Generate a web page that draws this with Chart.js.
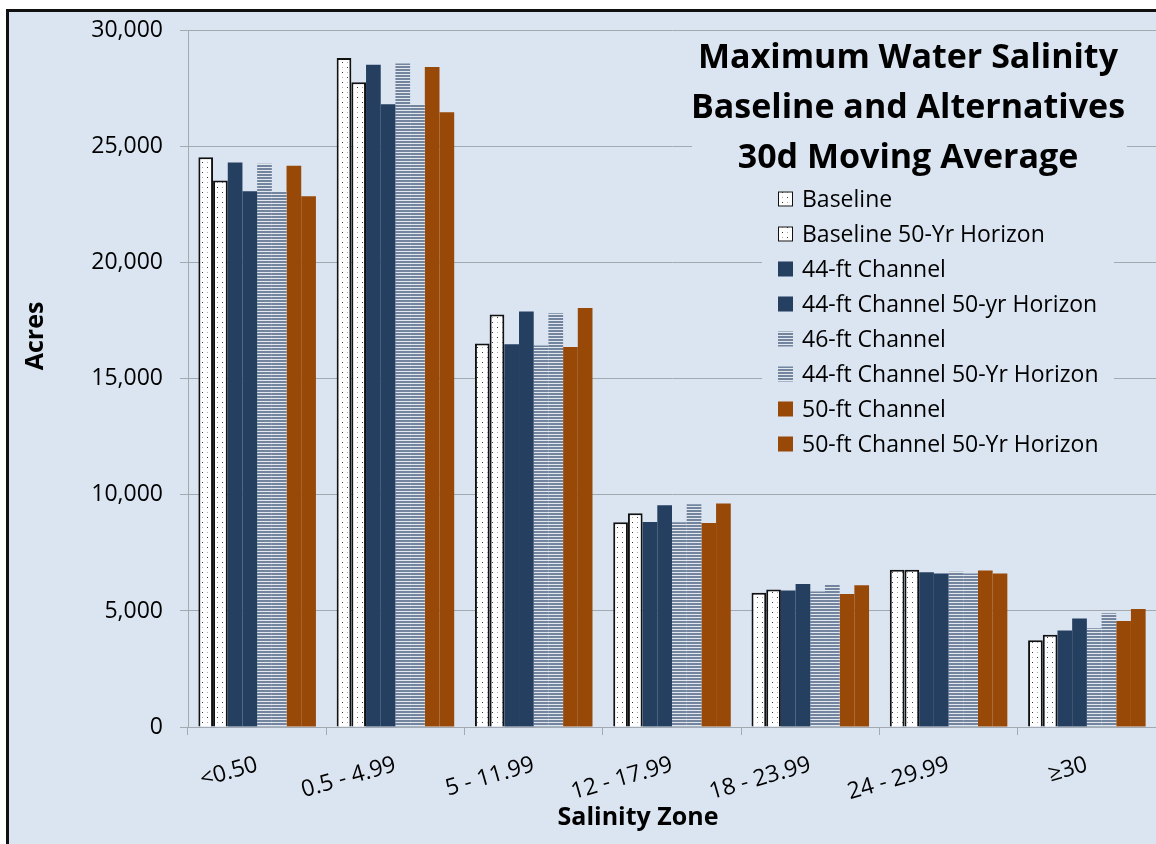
<!DOCTYPE html>
<html>
<head>
<meta charset="utf-8">
<script src="https://cdn.jsdelivr.net/npm/chart.js@4/dist/chart.umd.min.js"></script>
<style>
  html, body { margin: 0; padding: 0; background: #fff; overflow: hidden; }
  #frame {
    position: absolute; left: 6px; top: 9px; width: 1200px; height: 900px;
    background: #dbe5f1; border-left: 3px solid #111; border-top: 3px solid #111;
  }
  #chart { position: absolute; left: 0; top: 0; }
</style>
</head>
<body>
<div id="frame"></div>
<canvas id="chart" width="1156" height="844"></canvas>
<script>
const zones = ['<0.50', '0.5 - 4.99', '5 - 11.99', '12 - 17.99', '18 - 23.99', '24 - 29.99', '≥30'];

const seriesNames = [
  'Baseline',
  'Baseline 50-Yr Horizon',
  '44-ft Channel',
  '44-ft Channel 50-yr Horizon',
  '46-ft Channel',
  '44-ft Channel 50-Yr Horizon',
  '50-ft Channel',
  '50-ft Channel 50-Yr Horizon',
];

const baseline      = [24550, 28830, 16530, 8820, 5790, 6780, 3740];
const baseline50    = [23550, 27780, 17770, 9210, 5930, 6780, 3970];
const ch44          = [24330, 28540, 16490, 8830, 5880, 6670, 4160];
const ch44_50       = [23090, 26840, 17900, 9560, 6160, 6610, 4680];
const ch46          = [24270, 28590, 16440, 8820, 5840, 6690, 4260];
const ch44_50b      = [23090, 26840, 17830, 9600, 6130, 6610, 4900];
const ch50          = [24180, 28440, 16370, 8790, 5730, 6740, 4570];
const ch50_50       = [22870, 26490, 18060, 9630, 6110, 6610, 5090];

const titleLines = ['Maximum Water Salinity', 'Baseline and Alternatives', '30d Moving Average'];

const BG = '#dbe5f1';
const GRID = '#a3a9b1';
const NAVY = '#243f60';
const RUST = '#984807';
const FONT = '"Open Sans", sans-serif';

// small tile patterns like the excel fills
function dotPattern(ctx) {
  const t = document.createElement('canvas');
  t.width = 10; t.height = 10;
  const g = t.getContext('2d');
  g.fillStyle = '#ffffff';
  g.fillRect(0, 0, 10, 10);
  g.fillStyle = '#333';
  g.fillRect(2, 2, 1, 1);
  g.fillRect(7, 7, 1, 1);
  g.fillStyle = '#aaa';
  g.fillRect(7, 2, 1, 1);
  g.fillRect(2, 7, 1, 1);
  return ctx.createPattern(t, 'repeat');
}

function stripePattern(ctx) {
  const t = document.createElement('canvas');
  t.width = 4; t.height = 3;
  const g = t.getContext('2d');
  g.fillStyle = '#e3e8ef';
  g.fillRect(0, 0, 4, 3);
  g.fillStyle = '#72849e';
  g.fillRect(0, 0, 4, 2);
  return ctx.createPattern(t, 'repeat');
}

const overlay = {
  id: 'overlay',
  beforeDatasetsDraw(chart) {
    const c = chart.ctx;
    c.save();
    c.fillStyle = BG;
    c.fillRect(692, 34, 435, 148);
    c.fillRect(762, 182, 352, 282);
    c.restore();
  },
  afterDraw(chart) {
    const c = chart.ctx;
    c.save();
    c.fillStyle = '#000';

    // title
    c.font = 'bold 34px ' + FONT;
    c.textAlign = 'center';
    c.textBaseline = 'alphabetic';
    titleLines.forEach((t, i) => c.fillText(t, 908, 68 + i * 50));

    // legend
    c.font = '23px ' + FONT;
    c.textAlign = 'left';
    c.textBaseline = 'middle';
    chart.data.datasets.forEach((ds, i) => {
      const cy = 199 + i * 35;
      c.fillStyle = ds.backgroundColor;
      c.fillRect(778, cy - 7.5, 15, 15);
      if (ds.borderWidth) {
        c.strokeStyle = '#111';
        c.lineWidth = 1;
        c.strokeRect(778.5, cy - 7, 14, 14);
      }
      c.fillStyle = '#000';
      c.fillText(ds.label, 802, cy + 1);
    });

    // axis titles
    c.font = 'bold 25px ' + FONT;
    c.textAlign = 'center';
    c.fillText('Salinity Zone', 638, 818);
    c.translate(36, 336);
    c.rotate(-Math.PI / 2);
    c.fillText('Acres', 0, 0);
    c.restore();
  }
};

const ctx = document.getElementById('chart').getContext('2d');
const dots = dotPattern(ctx);
const stripes = stripePattern(ctx);

const values = [baseline, baseline50, ch44, ch44_50, ch46, ch44_50b, ch50, ch50_50];
const fills = [dots, dots, NAVY, NAVY, stripes, stripes, RUST, RUST];

Chart.defaults.font.family = FONT;
Chart.defaults.color = '#000';

new Chart(ctx, {
  type: 'bar',
  data: {
    labels: zones,
    datasets: values.map((v, i) => ({
      label: seriesNames[i],
      data: v,
      backgroundColor: fills[i],
      borderColor: '#111',
      borderWidth: fills[i] === dots ? 2 : 0,
      categoryPercentage: 0.85,
      barPercentage: 1.0,
    })),
  },
  options: {
    responsive: false,
    animation: false,
    devicePixelRatio: 1,
    layout: { padding: { top: 27, left: 0, right: 0, bottom: 0 } },
    plugins: {
      legend: { display: false },
      tooltip: { enabled: false },
    },
    scales: {
      x: {
        afterFit: (s) => { s.height = 117; },
        grid: { drawOnChartArea: false, color: GRID, tickLength: 8 },
        border: { color: GRID },
        ticks: { font: { size: 23 }, minRotation: 16, maxRotation: 16, padding: 16, autoSkip: false },
      },
      y: {
        min: 0,
        max: 30000,
        afterFit: (s) => { s.width = 188; },
        grid: { color: GRID, tickLength: 8 },
        border: { color: GRID },
        ticks: { stepSize: 5000, font: { size: 23 }, padding: 17 },
      },
    },
  },
  plugins: [overlay],
});
</script>
</body>
</html>
